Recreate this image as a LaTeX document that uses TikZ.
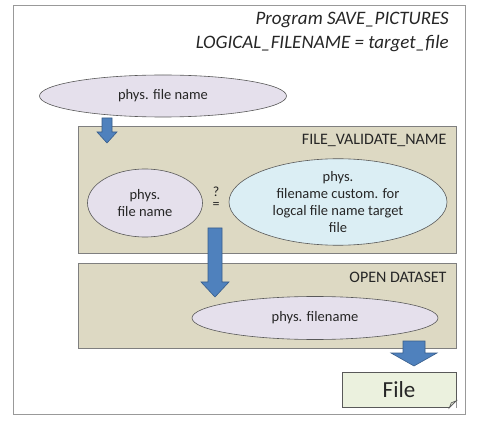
\documentclass[tikz,border=0pt]{standalone}
\usepackage{fontspec}
\setmainfont{Carlito}
\usetikzlibrary{shapes.geometric}
\definecolor{tanbg}{HTML}{DDD9C3}
\definecolor{tanline}{HTML}{7F7F7F}
\definecolor{lav}{HTML}{E5E0EC}
\definecolor{skyb}{HTML}{DBEEF4}
\definecolor{arrfill}{HTML}{4F81BD}
\definecolor{arrline}{HTML}{385D8A}
\definecolor{filebg}{HTML}{EBF1DE}
\definecolor{txt}{HTML}{262626}
\begin{document}
\begin{tikzpicture}[x=1pt,y=-1pt,
  every node/.style={text=txt},
  frame/.style={draw=gray!80,line width=1pt,fill=white},
  procbox/.style={draw=tanline,line width=0.8pt,fill=tanbg},
  ell/.style={ellipse,draw=gray!70!black,line width=0.6pt,inner sep=0pt,font=\fontsize{14.5}{17}\selectfont,align=center},
  lbl/.style={font=\fontsize{16}{18}\selectfont,anchor=east},
  blockarrow/.style={fill=arrfill,draw=arrline,line width=0.6pt,line join=miter}]
\useasboundingbox (0,0) rectangle (480,425);
% outer frame
\path[frame] (13,6) rectangle (465,414);
\node[anchor=north east,align=right,font=\fontsize{19}{24}\selectfont\itshape,inner sep=0pt] (title) at (449,12)
  {Program SAVE\_PICTURES\\LOGICAL\_FILENAME = target\_file};
% top ellipse
\node[ell,fill=lav,minimum width=247,minimum height=42] (e1) at (163,96) {phys. file name};
% FILE_VALIDATE_NAME box
\path[procbox] (78,126) rectangle (456,253);
\node[lbl] (fvn) at (450,140) {FILE\_VALIDATE\_NAME};
\node[ell,fill=lav,minimum width=115,minimum height=68] (e2) at (145,203) {phys.\\file name};
\node[font=\fontsize{14}{14}\selectfont,inner sep=0pt,anchor=south] (q) at (216,197) {?};
\node[font=\fontsize{14}{14}\selectfont,inner sep=0pt,anchor=north] (eq) at (216,202) {=};
\node[ell,fill=skyb,minimum width=218,minimum height=77] (e3) at (338,202)
  {phys.\\filename custom. for\\logcal file name target\\file};
% OPEN DATASET box
\path[procbox] (78,263) rectangle (456,348);
\node[lbl] (od) at (450,277) {OPEN DATASET};
\node[ell,fill=lav,minimum width=246,minimum height=43] (e4) at (315,318) {phys. filename};
% File
\node[draw=gray!70!black,line width=0.6pt,fill=filebg,minimum width=114,minimum height=35,inner sep=0pt,font=\fontsize{23}{24}\selectfont] (file) at (399,390) {File};
\fill[white] ([xshift=-7pt]file.south east) -- (file.south east) -- ([yshift=7pt]file.south east) -- cycle;
\draw[gray!70!black,line width=0.6pt,fill=filebg!80!gray] ([xshift=-7pt]file.south east) -- ([xshift=-5pt,yshift=5pt]file.south east) -- ([yshift=7pt]file.south east) -- cycle;
% block arrows
\path[blockarrow] (102,118) -- (112,118) -- (112,132) -- (117,132) -- (107,143) -- (97,132) -- (102,132) -- cycle;
\path[blockarrow] (208,228) -- (222,228) -- (222,282) -- (229,282) -- (215,297) -- (201,282) -- (208,282) -- cycle;
\path[blockarrow] (403,341) -- (425,341) -- (425,353) -- (437,353) -- (414,366) -- (391,353) -- (403,353) -- cycle;
\end{tikzpicture}
\end{document}
